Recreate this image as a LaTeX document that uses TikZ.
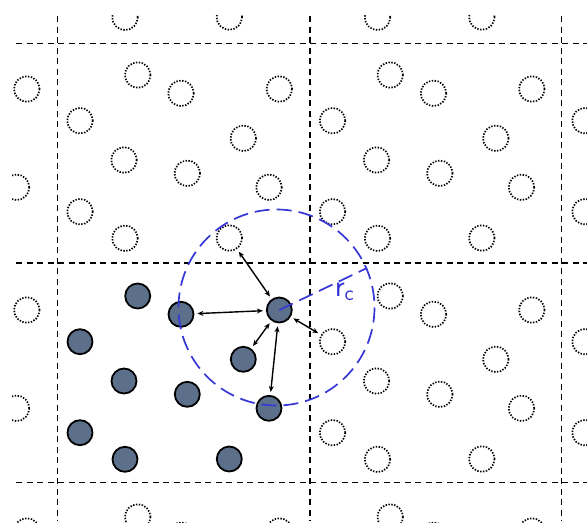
\documentclass[tikz,border=0pt]{standalone}
\usepackage{fontspec}
\usetikzlibrary{arrows.meta}

\definecolor{partfill}{RGB}{92,112,140}
\definecolor{cutblue}{RGB}{55,55,215}

% particle positions in the central cell
\def\cellparts{1/137.7/296, 2/181/314.3, 3/80/341.7, 4/279.3/310,
  5/243.3/359.3, 6/124/381, 7/187.3/394.3, 8/269/408.3,
  9/80/432.7, 10/125/459.3, 11/229.3/459}

\begin{document}
\begin{tikzpicture}[x=1pt, y=-1pt, >={Stealth[length=6pt, width=5pt]},
  particle/.style={circle, draw=black, line width=1.8pt, fill=partfill,
    minimum size=25pt, inner sep=0pt},
  ghost/.style={circle, draw=black, line width=1.7pt,
    dash pattern=on 1.4pt off 1.5pt, minimum size=25.5pt, inner sep=0pt},
  cellline/.style={line width=1.9pt, dash pattern=on 6pt off 4.5pt},
  cutoff/.style={cutblue, line width=1.7pt, dash pattern=on 15pt off 7pt},
  pair/.style={<->, line width=1.4pt, shorten <=3pt, shorten >=3pt}]
  \useasboundingbox (0,0) rectangle (587,525);

  \begin{scope}
    \clip (12,15) rectangle (587,522);

    % cell borders
    \foreach \gy in {43.5,263,482.5}
      \draw[cellline] (16,\gy) -- (587,\gy);
    \foreach \gx in {57.5,310,561.5}
      \draw[cellline] (\gx,16) -- (\gx,521);

    % periodic images
    \foreach \sx/\sy/\cname in {-1/-2/NNW, 0/-2/NN, 1/-2/NNE, 2/-2/NNEE,
        -1/-1/NW, 0/-1/N, 1/-1/NE, 2/-1/NEE,
        -1/0/W, 1/0/E, 2/0/EE,
        -1/1/SW, 0/1/S, 1/1/SE, 2/1/SEE}
      \foreach \k/\px/\py in \cellparts
        \node[ghost] (\cname-\k) at ({\px+(\sx)*252.5}, {\py+(\sy)*221}) {};

    % central cell
    \foreach \k/\px/\py in \cellparts
      \node[particle] (p\k) at (\px,\py) {};

    % pair distances
    \draw[pair] (p4) -- (N-11);
    \draw[pair] (p4) -- (p2);
    \draw[pair] (p4) -- (p5);
    \draw[pair] (p4) -- (p8);
    \draw[pair] (p4) -- (E-3);

    % cut-off sphere
    \coordinate (cutc) at (276.5,307.5);
    \draw[cutoff] (cutc) circle[radius=98];
    \coordinate (rcend) at (367,268);
    \draw[cutoff] (p4.center) -- (rcend);
    \node[text=cutblue, font=\fontsize{31}{31}\selectfont\sffamily, inner sep=0pt]
      (rc) at (344.5,292) {r\textsubscript{c}};
  \end{scope}
\end{tikzpicture}
\end{document}
